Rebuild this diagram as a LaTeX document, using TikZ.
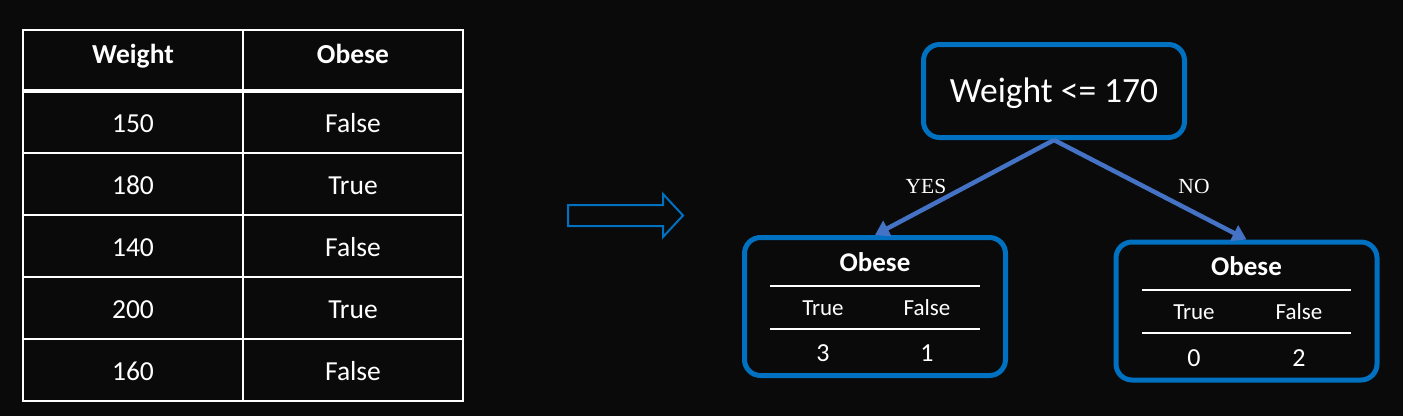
\documentclass[tikz,border=0pt]{standalone}
\usepackage{fontspec}
\setmainfont{Carlito}
\newfontfamily\yesnofont{Liberation Serif}
\usetikzlibrary{arrows.meta}
\definecolor{bgblack}{RGB}{10,10,10}
\definecolor{boxblue}{RGB}{0,112,192}
\definecolor{edgeblue}{RGB}{68,114,196}

\begin{document}
\begin{tikzpicture}[x=1pt, y=-1pt,
		cell_style/.style={text=white,anchor=base,font=\fontsize{27.5}{30}\selectfont},
		head_style/.style={text=white,anchor=base,font=\fontsize{27.5}{30}\selectfont\bfseries},
		grid_style/.style={draw=white,line width=1.5pt},
		root_style/.style={draw=boxblue,line width=5pt,rounded corners=16pt,minimum width=261pt,minimum height=93pt,text height=23pt,text depth=0pt,text=white,font=\fontsize{35.5}{38}\selectfont},
		leaf_style/.style={draw=boxblue,line width=5pt,rounded corners=16pt,minimum width=261pt,minimum height=138pt},
		leaf_head/.style={text=white,anchor=base,font=\fontsize{27}{30}\selectfont\bfseries},
		leaf_cell/.style={text=white,anchor=base,font=\fontsize{23}{26}\selectfont},
		leaf_count/.style={text=white,anchor=base,font=\fontsize{26}{28}\selectfont},
		rule_style/.style={draw=white,line width=2pt},
		edge_style/.style={draw=edgeblue,line width=4.5pt,-{Triangle[length=14pt,width=17pt]}},
		label_style/.style={text=white,font=\yesnofont\fontsize{21.5}{24}\selectfont}]

		\fill[bgblack] (0,0) rectangle (1403,416);
		\useasboundingbox (0,0) rectangle (1403,416);

		% data table
		\draw[grid_style] (23,30) rectangle (463,401);
		\draw[grid_style] (243,30) -- (243,401);
		\draw[grid_style] (23,153) -- (463,153);
		\draw[grid_style] (23,215) -- (463,215);
		\draw[grid_style] (23,277) -- (463,277);
		\draw[grid_style] (23,339) -- (463,339);
		\draw[draw=white,line width=4.5pt] (23,91) -- (463,91);

		\node[head_style] (hw) at (133,63) {Weight};
		\node[head_style] (ho) at (353,63) {Obese};
		\node[cell_style] (w1) at (133,132) {150};
		\node[cell_style] (o1) at (353,132) {False};
		\node[cell_style] (w2) at (133,194) {180};
		\node[cell_style] (o2) at (353,194) {True};
		\node[cell_style] (w3) at (133,256) {140};
		\node[cell_style] (o3) at (353,256) {False};
		\node[cell_style] (w4) at (133,318) {200};
		\node[cell_style] (o4) at (353,318) {True};
		\node[cell_style] (w5) at (133,380) {160};
		\node[cell_style] (o5) at (353,380) {False};

		% block arrow
		\draw[boxblue,line width=2pt,line join=miter] (568,205) -- (663,205) -- (663,194) -- (683,215.5) -- (663,237) -- (663,226) -- (568,226) -- cycle;

		% tree
		\node[root_style] (root) at (1054,91) {Weight <= 170};
		\node[leaf_style] (leafL) at (875,306.5) {};
		\node[leaf_style] (leafR) at (1246.5,311) {};

		\node[leaf_head] (lo) at (875,271) {Obese};
		\draw[rule_style] (770,286) -- (980,286);
		\node[leaf_cell] (lt) at (823,315.5) {True};
		\node[leaf_cell] (lf) at (927,315.5) {False};
		\draw[rule_style] (770,329) -- (980,329);
		\node[leaf_count] (lnt) at (823,361.5) {3};
		\node[leaf_count] (lnf) at (927,361.5) {1};

		\node[leaf_head] (ro) at (1246.5,275.5) {Obese};
		\draw[rule_style] (1142,290) -- (1351,290);
		\node[leaf_cell] (rt) at (1194,319.5) {True};
		\node[leaf_cell] (rf) at (1299,319.5) {False};
		\draw[rule_style] (1142,333) -- (1351,333);
		\node[leaf_count] (rnt) at (1194,366.5) {0};
		\node[leaf_count] (rnf) at (1299,366.5) {2};

		\draw[edge_style] (root.south) -- (leafL.north);
		\draw[edge_style] (root.south) -- (leafR.north);
		\node[label_style] (yes) at (926,186) {YES};
		\node[label_style] (no) at (1194,186) {NO};

	\end{tikzpicture}
\end{document}
